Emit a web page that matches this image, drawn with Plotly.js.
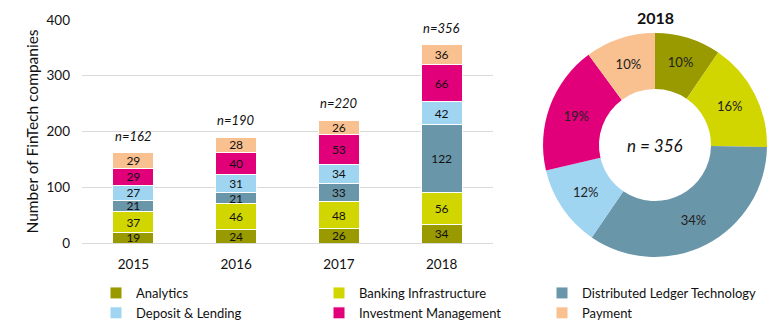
<!DOCTYPE html>
<html>
<head>
<meta charset="utf-8">
<script src="https://cdn.plot.ly/plotly-3.0.1.min.js"></script>
<style>html,body{margin:0;padding:0;background:#fff;overflow:hidden;}#chart{width:782px;height:336px;}</style>
</head>
<body>
<div id="chart"></div>
<script>
const years = ['2015', '2016', '2017', '2018'];
const categories = ['Analytics', 'Banking Infrastructure', 'Distributed Ledger Technology', 'Deposit & Lending', 'Investment Management', 'Payment'];
const analytics = [19, 24, 26, 34];
const banking = [37, 46, 48, 56];
const dlt = [21, 21, 33, 122];
const deposit = [27, 31, 34, 42];
const investment = [29, 40, 53, 66];
const payment = [29, 28, 26, 36];
const totals = [162, 190, 220, 356];
const pieYear = '2018';
const pieValues = [34, 56, 122, 42, 66, 36];
const colors = ['#999900', '#d2d600', '#6a96a9', '#9fd5f1', '#e2007a', '#f9c090'];

const series = [analytics, banking, dlt, deposit, investment, payment];
const FONT = 'Lato, "Open Sans", sans-serif';

const traces = series.map((vals, i) => ({
  type: 'bar',
  name: categories[i],
  x: years,
  y: vals,
  text: vals.map(String),
  textposition: 'inside',
  insidetextanchor: 'middle',
  textangle: 0,
  constraintext: 'none',
  insidetextfont: {family: FONT, size: 12, color: '#111'},
  marker: {color: colors[i], line: {color: '#ffffff', width: 1}},
  hoverinfo: 'name+y',
  xaxis: 'x', yaxis: 'y'
}));

traces.push({
  type: 'pie',
  labels: categories,
  values: pieValues,
  hole: 0.5,
  sort: false,
  direction: 'clockwise',
  rotation: 0,
  marker: {colors: colors, line: {width: 0}},
  textinfo: 'percent',
  texttemplate: '%{percent:.0%}',
  textposition: 'inside',
  insidetextorientation: 'horizontal',
  textfont: {family: FONT, size: 13, color: '#222'},
  showlegend: false,
  domain: {x: [0.6944, 0.9808], y: [0.2351, 0.9018]}
});

const annotations = years.map((yr, i) => ({
  x: yr, y: totals[i], xref: 'x', yref: 'y',
  text: '<i>n=' + totals[i] + '</i>',
  showarrow: false, xanchor: 'center', yanchor: 'bottom', yshift: 7,
  font: {family: FONT, size: 13, color: '#111'}
}));
annotations.push({
  x: 655/782, y: (336-17)/336, xref: 'paper', yref: 'paper',
  xanchor: 'center', yanchor: 'middle',
  text: '<b>' + pieYear + '</b>', showarrow: false,
  font: {family: FONT, size: 16, color: '#111'}
});
annotations.push({
  x: 655/782, y: (336-145)/336, xref: 'paper', yref: 'paper',
  xanchor: 'center', yanchor: 'middle',
  text: '<i>n = ' + totals[3] + '</i>', showarrow: false,
  font: {family: FONT, size: 17, color: '#111'}
});

const layout = {
  width: 782, height: 336,
  margin: {l: 0, r: 0, t: 0, b: 0, autoexpand: false},
  paper_bgcolor: '#fff', plot_bgcolor: '#fff',
  barmode: 'stack',
  bargap: 0.6,
  font: {family: FONT, size: 13, color: '#111'},
  xaxis: {
    domain: [82/782, 493/782],
    showgrid: false, zeroline: false, showline: false,
    ticks: '', ticklabelstandoff: 11,
    tickfont: {family: FONT, size: 13.5, color: '#111'},
    automargin: false,
    fixedrange: true
  },
  yaxis: {
    domain: [(336-243)/336, (336-20)/336],
    range: [0, 400],
    tickvals: [0, 100, 200, 300, 400],
    gridcolor: '#d9d9d9', gridwidth: 1,
    zeroline: true, zerolinecolor: '#d9d9d9', zerolinewidth: 1,
    showline: false, ticks: '',
    ticklabelstandoff: 11,
    automargin: false,
    tickfont: {family: FONT, size: 13.5, color: '#111'},
    title: {text: 'Number of FinTech companies', font: {family: FONT, size: 15.5, color: '#111'}, standoff: 4},
    fixedrange: true
  },
  legend: {
    orientation: 'h',
    x: 96/782, xanchor: 'left',
    y: (336-278)/336, yanchor: 'top',
    entrywidth: 178, entrywidthmode: 'pixels',
    itemwidth: 30,
    font: {family: FONT, size: 13, color: '#111'},
    traceorder: 'normal',
    tracegroupgap: 0
  },
  annotations: annotations,
  showlegend: true
};

Plotly.newPlot('chart', traces, layout, {displayModeBar: false, staticPlot: true});
</script>
</body>
</html>
